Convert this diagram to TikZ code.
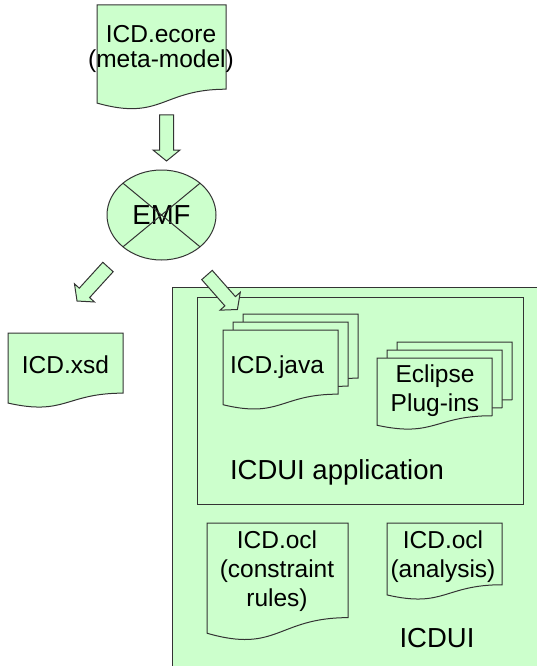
\documentclass[tikz,border=0pt]{standalone}
\usepackage{fontspec}
\setmainfont{Liberation Sans}
\usetikzlibrary{shapes.geometric}
\definecolor{docgreen}{RGB}{204,255,204}
\tikzset{
	docline/.style = {draw=black!80, fill=docgreen, line width=1pt},
	txt/.style = {font=\fontsize{24.5}{29}\selectfont, align=center, inner sep=0pt},
	bigtxt/.style = {txt, font=\fontsize{27.5}{29}\selectfont},
	blockarrow/.pic = {\draw[docline] (0,-7) -- (35,-7) -- (35,-13.5) -- (46,0) -- (35,13.5) -- (35,7) -- (0,7) -- cycle;}
}
% document with wavy bottom: left, top, width, height
\newcommand{\docshape}[4]{%
	\draw[docline] (#1,#2) -- ({#1+#3},#2) -- ({#1+#3},{#2+0.802*#4})
		.. controls ({#1+0.5*#3},{#2+0.802*#4}) and ({#1+0.5*#3},{#2+1.1075*#4}) .. (#1,{#2+0.934*#4}) -- cycle;}

\begin{document}
\begin{tikzpicture}[x=1pt,y=-1pt]
	\useasboundingbox (0,0) rectangle (536,666);
		\docshape{97}{5}{129}{105}
		\node[txt, font=\fontsize{24.5}{25}\selectfont] (ecore) at (161,49.3) {ICD.ecore\\(meta-model)};
		\pic[rotate=-90] at (166.5,115) {blockarrow};
		\node[docline, ellipse, minimum width=109pt, minimum height=90pt, inner sep=0pt, outer sep=0pt,
			font=\fontsize{27.5}{29}\selectfont] (emf) at (161.5,215) {EMF};
		\draw[draw=black!80, line width=1pt] (emf.north west) -- (emf.south east)
			(emf.north east) -- (emf.south west);
		\pic[rotate=-132.3] at (108,267) {blockarrow};
		\docshape{8}{333}{115}{75}
		\node[txt, anchor=base] (xsd) at (65.5,373) {ICD.xsd};
	% ICDUI
		\draw[docline] (172,287) rectangle (560,690);
		\draw[docline] (197,297) rectangle (523,504);
		\foreach \i in {2,1,0} \docshape{223+10*\i}{330-8*\i}{115}{80};
		\node[txt, anchor=base] (java) at (277,373) {ICD.java};
		\foreach \i in {2,1,0} \docshape{377+10*\i}{358-8*\i}{115}{72};
		\node[txt] (plugins) at (435,390.75) {Eclipse\\Plug-ins};
		\node[bigtxt, anchor=base] (app) at (337,479) {ICDUI application};
		\docshape{207}{523}{141}{118}
		\node[txt] (rules) at (277,571.25) {ICD.ocl\\(constraint\\rules)};
		\docshape{387}{523}{115}{77}
		\node[txt] (analysis) at (443,556.25) {ICD.ocl\\(analysis)};
		\node[bigtxt, anchor=base] (icdui) at (437,647) {ICDUI};
		\pic[rotate=-48.6] at (207,275) {blockarrow};
	\end{tikzpicture}
\end{document}
